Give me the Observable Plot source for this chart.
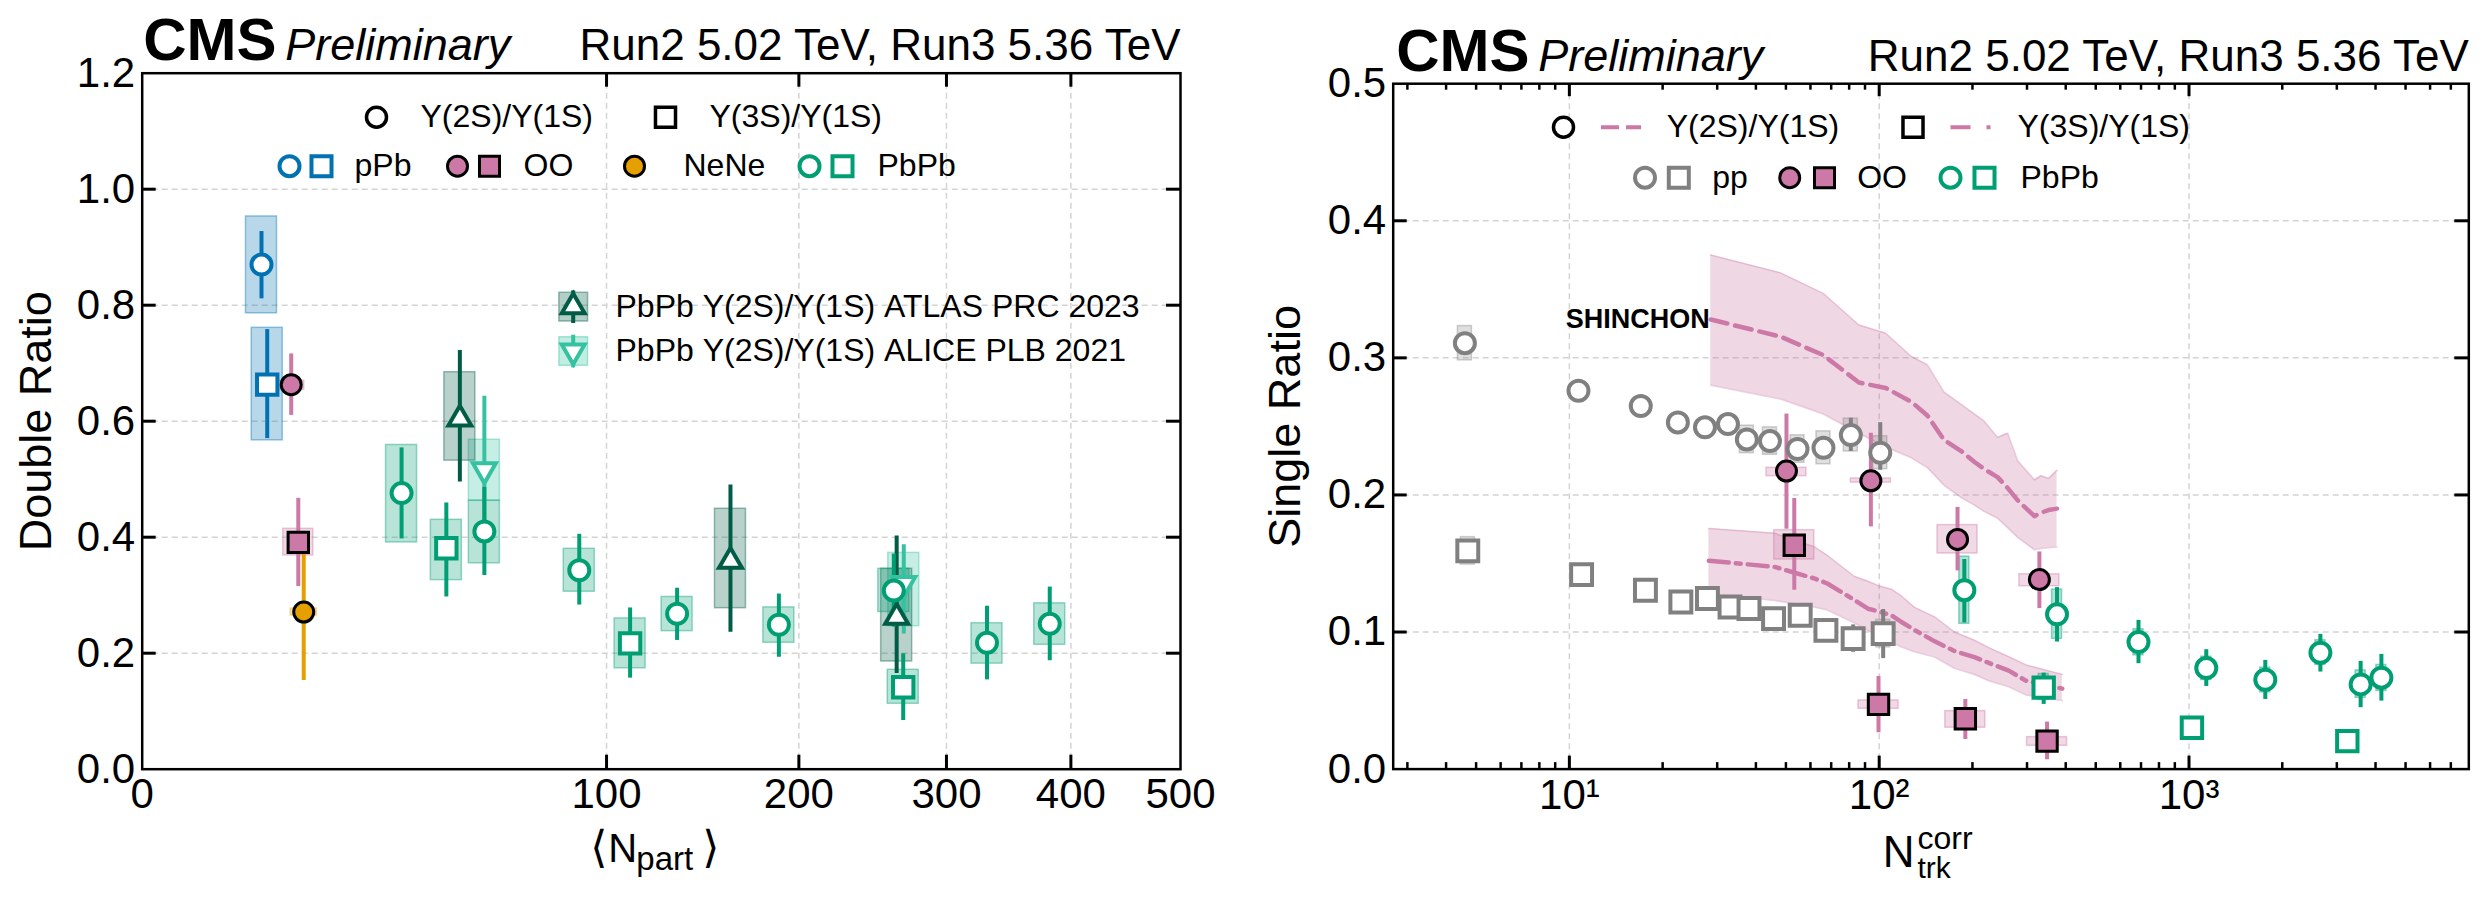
<!DOCTYPE html>
<html><head><meta charset="utf-8">
<script src="https://cdn.jsdelivr.net/npm/d3@7"></script>
<script src="https://cdn.jsdelivr.net/npm/@observablehq/plot@0.6"></script>
<style>
html,body{margin:0;padding:0;background:#fff;}
#wrap{position:relative;width:2485px;height:898px;overflow:hidden;background:#fff;}
#left{position:absolute;left:0;top:0;width:1240px;}
#right{position:absolute;left:1245px;top:0;width:1240px;}
svg{max-width:none !important;}
</style></head><body><div id="wrap"><div id="left"></div><div id="right"></div></div>
<script>
// ===== DATA =====
// columns: x, value, stat low, stat high, syst low, syst high
// Left panel: double ratio vs <Npart>
const L_pPb_2S  = [[6.6, 0.870, 0.811, 0.927, 0.786, 0.953]];
const L_pPb_3S  = [[7.25, 0.663, 0.570, 0.758, 0.567, 0.761]];
const L_OO_2S   = [[10.3, 0.663, 0.610, 0.716, 0.654, 0.670]];
const L_OO_3S   = [[11.3, 0.391, 0.315, 0.467, 0.3685, 0.4145]];
const L_NeNe_2S = [[12.1, 0.271, 0.153, 0.376, 0.265, 0.277]];
const L_PbPb_2S = [
  [31.2, 0.476, 0.397, 0.554, 0.391, 0.559],
  [54.3, 0.410, 0.334, 0.486, 0.355, 0.463],
  [88.6, 0.343, 0.283, 0.405, 0.306, 0.380],
  [132.7, 0.268, 0.222, 0.312, 0.238, 0.297],
  [188, 0.249, 0.193, 0.302, 0.218, 0.279],
  [262, 0.308, 0.245, 0.371, 0.271, 0.3455],
  [331, 0.218, 0.154, 0.281, 0.182, 0.2517],
  [382, 0.2507, 0.187, 0.314, 0.2145, 0.286]];
const L_PbPb_3S = [
  [42.9, 0.381, 0.297, 0.459, 0.326, 0.430],
  [110.4, 0.217, 0.157, 0.278, 0.174, 0.260],
  [268.6, 0.1414, 0.084, 0.199, 0.1128, 0.1714]];
const L_ATLAS_2S = [
  [46.8, 0.604, 0.495, 0.722, 0.532, 0.6845],
  [160.5, 0.3586, 0.236, 0.490, 0.2776, 0.449],
  [264, 0.262, 0.165, 0.402, 0.1857, 0.3455]];
const L_ALICE_2S = [
  [54.3, 0.516, 0.39, 0.643, 0.463, 0.568],
  [269, 0.32, 0.233, 0.387, 0.2466, 0.373]];

// Right panel: single ratio vs Ntrk^corr
const R_pp_2S = [
  [4.60, 0.3107, 0.3057, 0.3157, 0.2982, 0.3232],
  [10.7, 0.2760, 0.2720, 0.2800, 0.2720, 0.2800],
  [17.0, 0.2649, 0.2609, 0.2689, 0.2609, 0.2689],
  [22.4, 0.2529, 0.2489, 0.2569, 0.2479, 0.2579],
  [27.4, 0.2493, 0.2453, 0.2533, 0.2443, 0.2543],
  [32.5, 0.2517, 0.2477, 0.2557, 0.2457, 0.2577],
  [37.4, 0.2405, 0.2355, 0.2455, 0.2305, 0.2505],
  [44.4, 0.2393, 0.2343, 0.2443, 0.2293, 0.2493],
  [54.5, 0.2335, 0.2275, 0.2395, 0.2235, 0.2435],
  [66.1, 0.2344, 0.2274, 0.2414, 0.2224, 0.2464],
  [81.0, 0.2437, 0.2317, 0.2560, 0.2317, 0.2557],
  [100.8, 0.2308, 0.2180, 0.2527, 0.2188, 0.2428]];
const R_pp_3S = [
  [4.70, 0.1592, 0.1552, 0.1632, 0.1492, 0.1692],
  [10.95, 0.1419, 0.1379, 0.1459, 0.1379, 0.1459],
  [17.6, 0.1305, 0.1265, 0.1345, 0.1265, 0.1345],
  [22.9, 0.1219, 0.1179, 0.1259, 0.1169, 0.1269],
  [27.9, 0.1244, 0.1204, 0.1284, 0.1194, 0.1294],
  [33.0, 0.1183, 0.1133, 0.1233, 0.1123, 0.1243],
  [38.0, 0.1171, 0.1121, 0.1221, 0.1111, 0.1231],
  [45.6, 0.1098, 0.1038, 0.1158, 0.1028, 0.1168],
  [55.6, 0.1122, 0.1062, 0.1182, 0.1052, 0.1192],
  [67.3, 0.1012, 0.0932, 0.1092, 0.0932, 0.1092],
  [82.4, 0.0952, 0.0852, 0.1052, 0.0872, 0.1032],
  [103, 0.0988, 0.0806, 0.1164, 0.0888, 0.1088]];
const R_OO_2S = [
  [50.2, 0.2174, 0.175, 0.259, 0.2137, 0.2198],
  [94.0, 0.2103, 0.1767, 0.245, 0.209, 0.212],
  [179, 0.1675, 0.1446, 0.1909, 0.1573, 0.178],
  [328.9, 0.1383, 0.1171, 0.1584, 0.1334, 0.1421]];
const R_OO_3S = [
  [53.2, 0.1633, 0.1305, 0.1974, 0.1529, 0.1743],
  [99.5, 0.0472, 0.0265, 0.0676, 0.044, 0.0501],
  [189.7, 0.0367, 0.0216, 0.0508, 0.0302, 0.0423],
  [348.2, 0.0204, 0.0068, 0.0343, 0.017, 0.0233]];
const R_PbPb_2S = [
  [188.3, 0.1305, 0.1066, 0.1529, 0.106, 0.155],
  [375, 0.1129, 0.0927, 0.1324, 0.095, 0.131],
  [687, 0.0927, 0.0769, 0.1085, 0.083, 0.102],
  [1137, 0.0737, 0.0603, 0.0871, 0.065, 0.082],
  [1763, 0.0652, 0.0508, 0.0793, 0.056, 0.074],
  [2655, 0.0849, 0.0708, 0.0983, 0.076, 0.094],
  [3581, 0.0618, 0.0448, 0.0786, 0.052, 0.072],
  [4178, 0.0667, 0.0496, 0.0837, 0.057, 0.076]];
const R_PbPb_3S = [
  [339.6, 0.0594, 0.0472, 0.070, 0.0505, 0.0694],
  [1022, 0.0302, 0.027, 0.033, 0.027, 0.033],
  [3243, 0.0204, 0.018, 0.023, 0.018, 0.023]];

// SHINCHON model bands
const shin2S_N   = [28.6, 48, 66, 86, 105, 127, 143, 162, 184, 203, 218, 241, 260, 280, 317, 333, 352, 375];
const shin2S_mid = [0.328, 0.3155, 0.302, 0.282, 0.278, 0.268, 0.258, 0.240, 0.232, 0.224, 0.219, 0.213, 0.205, 0.196, 0.1845, 0.187, 0.189, 0.190];
const shin2S_hi  = [0.375, 0.362, 0.347, 0.324, 0.318, 0.301, 0.295, 0.275, 0.266, 0.259, 0.254, 0.242, 0.245, 0.225, 0.211, 0.214, 0.212, 0.218];
const shin2S_lo  = [0.280, 0.270, 0.259, 0.245, 0.235, 0.227, 0.220, 0.207, 0.198, 0.1925, 0.188, 0.183, 0.176, 0.169, 0.160, 0.161, 0.1615, 0.162];
const shin3S_N   = [28.2, 46, 62, 68, 83, 92, 99, 110, 118, 130, 151, 175, 203, 224, 262, 298, 390];
const shin3S_mid = [0.152, 0.1475, 0.139, 0.1354, 0.1235, 0.117, 0.1152, 0.112, 0.1073, 0.1015, 0.0932, 0.0861, 0.0817, 0.0778, 0.0718, 0.0644, 0.0587];
const shin3S_hi  = [0.1755, 0.172, 0.162, 0.156, 0.1407, 0.137, 0.134, 0.131, 0.1263, 0.118, 0.111, 0.100, 0.094, 0.089, 0.082, 0.076, 0.069];
const shin3S_lo  = [0.128, 0.123, 0.118, 0.116, 0.1067, 0.101, 0.0978, 0.0926, 0.089, 0.0855, 0.0817, 0.0735, 0.069, 0.0647, 0.060, 0.054, 0.050];

// Ticks
const L_xTicks = [0, 100, 200, 300, 400, 500];
const L_xInner = [100, 200, 300, 400];
const L_yTicks = [0, 0.2, 0.4, 0.6, 0.8, 1.0, 1.2];
const L_yInner = [0.2, 0.4, 0.6, 0.8, 1.0];
const R_xTicks = [10, 100, 1000];
const R_xTickLabels = ["10\u00B9", "10\u00B2", "10\u00B3"];
const R_xMinor = [3,4,5,6,7,8,9,20,30,40,50,60,70,80,90,200,300,400,500,600,700,800,900,2000,3000,4000,5000,6000,7000];
const R_yTicks = [0, 0.1, 0.2, 0.3, 0.4, 0.5];
const R_yInner = [0.1, 0.2, 0.3, 0.4];

// ===== STYLE =====
const FONT = "'Liberation Sans', Arial, Helvetica, sans-serif";
const COL = {pPb:"#0072B2", OO:"#CC79A7", NeNe:"#E69F00", PbPb:"#009E73", pp:"#808080", ATLAS:"#005C45", ALICE:"#35C2A0"};
const GRID = {stroke:"#d4d4d4", strokeWidth:1.5, strokeDasharray:"6,4"};
const UPS2 = "\u03A5(2S)/\u03A5(1S)", UPS3 = "\u03A5(3S)/\u03A5(1S)";

const triDown = {draw(ctx, size){ const y = -Math.sqrt(size/(3*Math.sqrt(3))); ctx.moveTo(0,-2*y); ctx.lineTo(-Math.sqrt(3)*y, y); ctx.lineTo(Math.sqrt(3)*y, y); ctx.closePath(); }};
const vline = {draw(ctx, size){ const r = Math.sqrt(size/Math.PI); ctx.moveTo(0,-r); ctx.lineTo(0,r); }};
const hline = {draw(ctx, size){ const r = Math.sqrt(size/Math.PI); ctx.moveTo(-r,0); ctx.lineTo(r,0); }};

const rows = a => a.map(([x,y,sl,sh,yl,yh]) => ({x,y,sl,sh,yl,yh}));
function series(arr, o) {
  const d = rows(arr);
  const {color, symbol, r, fill="white", stroke=color, sw=4, half=15.5, op=0.28, bw=4} = o;
  return [
    Plot.rect(d, {x1:"x", x2:"x", y1:"yl", y2:"yh", insetLeft:-half, insetRight:-half, fill:color, fillOpacity:op, stroke:color, strokeOpacity:Math.min(1, op+0.12), strokeWidth:1.5}),
    Plot.ruleX(d, {x:"x", y1:"sl", y2:"sh", stroke:color, strokeWidth:bw}),
    Plot.dot(d, {x:"x", y:"y", symbol, r, fill, stroke, strokeWidth:sw})
  ];
}
const layer = S => [...S.map(s=>s[0]), ...S.map(s=>s[1]), ...S.map(s=>s[2])];
const legDot = (dx, dy, o) => Plot.dot([0], {frameAnchor:"top-left", dx, dy, ...o});
const legText = (dx, dy, t, o={}) => Plot.text([t], {frameAnchor:"top-left", dx, dy, text:d=>d, textAnchor:"start", lineAnchor:"middle", fontSize:32, fill:"black", ...o});
const frameTicks = (W, H, xs, ys, xlen, ylen, sw=3) => [
  Plot.tickX(xs, {x:d=>d, insetTop:H-xlen, stroke:"black", strokeWidth:sw}),
  Plot.tickX(xs, {x:d=>d, insetBottom:H-xlen, stroke:"black", strokeWidth:sw}),
  Plot.tickY(ys, {y:d=>d, insetRight:W-ylen, stroke:"black", strokeWidth:sw}),
  Plot.tickY(ys, {y:d=>d, insetLeft:W-ylen, stroke:"black", strokeWidth:sw})
];
const titles = (dyT, cmsDx) => [
  Plot.text(["CMS"], {frameAnchor:"top-left", dx:cmsDx, dy:dyT, text:d=>d, textAnchor:"start", lineAnchor:"bottom", fontSize:60, fontWeight:"bold", fill:"black"}),
  Plot.text(["Preliminary"], {frameAnchor:"top-left", dx:cmsDx+142, dy:dyT, text:d=>d, textAnchor:"start", lineAnchor:"bottom", fontSize:45, fontStyle:"italic", fill:"black"}),
  Plot.text(["Run2 5.02 TeV, Run3 5.36 TeV"], {frameAnchor:"top-right", dy:dyT, text:d=>d, textAnchor:"end", lineAnchor:"bottom", fontSize:44, fill:"black"})
];

// ===== LEFT PANEL =====
{
  const mL=141.7, mR=60, mT=72.7, mB=129.3, W=1240-mL-mR, H=898-mT-mB;
  const S = [
    series(L_ALICE_2S, {color:COL.ALICE, symbol:triDown, r:8.5}),
    series(L_ATLAS_2S, {color:COL.ATLAS, symbol:"triangle", r:8.5}),
    series(L_pPb_2S, {color:COL.pPb, symbol:"circle", r:10}),
    series(L_pPb_3S, {color:COL.pPb, symbol:"square", r:11.5}),
    series(L_OO_2S, {color:COL.OO, symbol:"circle", r:10, fill:COL.OO, stroke:"black", sw:3, half:13}),
    series(L_OO_3S, {color:COL.OO, symbol:"square", r:11.5, fill:COL.OO, stroke:"black", sw:3, half:15}),
    series(L_NeNe_2S, {color:COL.NeNe, symbol:"circle", r:10, fill:COL.NeNe, stroke:"black", sw:3, half:13}),
    series(L_PbPb_3S, {color:COL.PbPb, symbol:"square", r:11.5}),
    series(L_PbPb_2S, {color:COL.PbPb, symbol:"circle", r:10})
  ];
  const chart = Plot.plot({
    width:1240, height:898, marginLeft:mL, marginRight:mR, marginTop:mT, marginBottom:mB,
    style:{fontFamily:FONT, fontSize:"42px", color:"black", background:"white", overflow:"visible"},
    x:{type:"sqrt", domain:[0,500], ticks:L_xTicks, tickFormat:d=>String(d), tickSize:0, tickPadding:9, label:null},
    y:{domain:[0,1.2], ticks:L_yTicks, tickFormat:d=>d.toFixed(1), tickSize:0, tickPadding:7, label:null},
    marks:[
      Plot.ruleX(L_xInner, {x:d=>d, ...GRID}),
      Plot.ruleY(L_yInner, {y:d=>d, ...GRID}),
      ...layer(S),
      Plot.frame({stroke:"black", strokeWidth:2.5}),
      ...frameTicks(W, H, L_xInner, L_yInner, 14, 14),
      ...titles(-12.7, 1),
      // legend row 1
      legDot(234.3, 44, {symbol:"circle", r:10, fill:"white", stroke:"black", strokeWidth:3.5}),
      legText(278.3, 44, UPS2),
      legDot(523.3, 44, {symbol:"square", r:11.3, fill:"white", stroke:"black", strokeWidth:3.5}),
      legText(567.3, 44, UPS3),
      // legend row 2
      legDot(147.3, 93, {symbol:"circle", r:10, fill:"white", stroke:COL.pPb, strokeWidth:4}),
      legDot(179.3, 93, {symbol:"square", r:11.3, fill:"white", stroke:COL.pPb, strokeWidth:4}),
      legText(212.3, 93, "pPb"),
      legDot(315.3, 93, {symbol:"circle", r:10, fill:COL.OO, stroke:"black", strokeWidth:3}),
      legDot(347.3, 93, {symbol:"square", r:11.3, fill:COL.OO, stroke:"black", strokeWidth:3}),
      legText(381.3, 93, "OO"),
      legDot(492.3, 93, {symbol:"circle", r:10, fill:COL.NeNe, stroke:"black", strokeWidth:3}),
      legText(541.3, 93, "NeNe"),
      legDot(667.3, 93, {symbol:"circle", r:10, fill:"white", stroke:COL.PbPb, strokeWidth:4}),
      legDot(700.3, 93, {symbol:"square", r:11.3, fill:"white", stroke:COL.PbPb, strokeWidth:4}),
      legText(735.3, 93, "PbPb"),
      // ATLAS / ALICE legend
      legDot(431, 233.5, {symbol:"square", r:16.2, fill:COL.ATLAS, fillOpacity:0.3, stroke:COL.ATLAS, strokeOpacity:0.4, strokeWidth:1.5}),
      legDot(431, 233.5, {symbol:vline, r:16.3, fill:"none", stroke:COL.ATLAS, strokeWidth:4}),
      legDot(431, 233.5, {symbol:"triangle", r:8.5, fill:"white", stroke:COL.ATLAS, strokeWidth:4}),
      legText(473.3, 233.5, "PbPb " + UPS2 + " ATLAS PRC 2023"),
      legDot(431, 277.8, {symbol:"square", r:16.2, fill:COL.ALICE, fillOpacity:0.3, stroke:COL.ALICE, strokeOpacity:0.4, strokeWidth:1.5}),
      legDot(431, 277.8, {symbol:vline, r:16.3, fill:"none", stroke:COL.ALICE, strokeWidth:4}),
      legDot(431, 277.8, {symbol:triDown, r:8.5, fill:"white", stroke:COL.ALICE, strokeWidth:4}),
      legText(473.3, 277.8, "PbPb " + UPS2 + " ALICE PLB 2021"),
      // axis labels
      Plot.text(["Double Ratio"], {frameAnchor:"left", dx:-105.7, rotate:-90, text:d=>d, textAnchor:"middle", lineAnchor:"middle", fontSize:45, fill:"black"}),
      Plot.text(["\u27E8"], {frameAnchor:"bottom", dx:-71, dy:92.5, text:d=>d, textAnchor:"start", lineAnchor:"bottom", fontSize:44, fontFamily:"'DejaVu Sans', sans-serif", fill:"black"}),
      Plot.text(["N"], {frameAnchor:"bottom", dx:-53, dy:92.5, text:d=>d, textAnchor:"start", lineAnchor:"bottom", fontSize:40, fill:"black"}),
      Plot.text(["part"], {frameAnchor:"bottom", dx:-25, dy:100.5, text:d=>d, textAnchor:"start", lineAnchor:"bottom", fontSize:33, fill:"black"}),
      Plot.text(["\u27E9"], {frameAnchor:"bottom", dx:41, dy:92.5, text:d=>d, textAnchor:"start", lineAnchor:"bottom", fontSize:44, fontFamily:"'DejaVu Sans', sans-serif", fill:"black"})
    ]
  });
  document.getElementById("left").append(chart);
}

// ===== RIGHT PANEL =====
{
  const mL=147.7, mR=16.7, mT=83.2, mB=129.4, W=1240-mL-mR, H=898-mT-mB;
  const band2S = shin2S_N.map((N,i)=>({N, mid:shin2S_mid[i], lo:shin2S_lo[i], hi:shin2S_hi[i]}));
  const band3S = shin3S_N.map((N,i)=>({N, mid:shin3S_mid[i], lo:shin3S_lo[i], hi:shin3S_hi[i]}));
  const S = [
    series(R_pp_2S, {color:COL.pp, symbol:"circle", r:10, half:7, op:0.25}),
    series(R_pp_3S, {color:COL.pp, symbol:"square", r:11.8, half:7, op:0.25}),
    series(R_OO_2S, {color:COL.OO, symbol:"circle", r:10, fill:COL.OO, stroke:"black", sw:3, half:20, op:0.28}),
    series(R_OO_3S, {color:COL.OO, symbol:"square", r:11.5, fill:COL.OO, stroke:"black", sw:3, half:20, op:0.28}),
    series(R_PbPb_3S, {color:COL.PbPb, symbol:"square", r:11.5, half:5, op:0.3}),
    series(R_PbPb_2S, {color:COL.PbPb, symbol:"circle", r:10, half:5, op:0.3})
  ];
  const chart = Plot.plot({
    width:1240, height:898, marginLeft:mL, marginRight:mR, marginTop:mT, marginBottom:mB,
    style:{fontFamily:FONT, fontSize:"42px", color:"black", background:"white", overflow:"visible"},
    x:{type:"log", domain:[2.7,8000], ticks:R_xTicks, tickFormat:d=>R_xTickLabels[R_xTicks.indexOf(d)], tickSize:0, tickPadding:10, label:null},
    y:{domain:[0,0.5], ticks:R_yTicks, tickFormat:d=>d.toFixed(1), tickSize:0, tickPadding:7, label:null},
    marks:[
      Plot.ruleX(R_xTicks, {x:d=>d, ...GRID}),
      Plot.ruleY(R_yInner, {y:d=>d, ...GRID}),
      Plot.areaY(band2S, {x:"N", y1:"lo", y2:"hi", fill:COL.OO, fillOpacity:0.3}),
      Plot.areaY(band3S, {x:"N", y1:"lo", y2:"hi", fill:COL.OO, fillOpacity:0.3}),
      Plot.line(band2S, {x:"N", y:"hi", stroke:COL.OO, strokeOpacity:0.35, strokeWidth:1.5}),
      Plot.line(band2S, {x:"N", y:"lo", stroke:COL.OO, strokeOpacity:0.35, strokeWidth:1.5}),
      Plot.line(band3S, {x:"N", y:"hi", stroke:COL.OO, strokeOpacity:0.35, strokeWidth:1.5}),
      Plot.line(band3S, {x:"N", y:"lo", stroke:COL.OO, strokeOpacity:0.35, strokeWidth:1.5}),
      Plot.line(band2S, {x:"N", y:"mid", stroke:COL.OO, strokeWidth:4.5, strokeDasharray:"17,8"}),
      Plot.line(band3S, {x:"N", y:"mid", stroke:COL.OO, strokeWidth:4.5, strokeDasharray:"20,7,5,7"}),
      Plot.text([band2S[0]], {x:"N", y:"mid", text:()=>"SHINCHON", textAnchor:"end", lineAnchor:"middle", dx:-1, fontSize:27, fontWeight:"bold", fill:"black"}),
      ...layer(S),
      Plot.frame({stroke:"black", strokeWidth:2.5}),
      ...frameTicks(W, H, R_xTicks, R_yInner, 13, 14),
      Plot.tickX(R_xMinor, {x:d=>d, insetTop:H-6.5, stroke:"black", strokeWidth:2.5}),
      Plot.tickX(R_xMinor, {x:d=>d, insetBottom:H-6.5, stroke:"black", strokeWidth:2.5}),
      ...titles(-13.2, 3),
      // legend row 1
      legDot(170.3, 43.5, {symbol:"circle", r:10, fill:"white", stroke:"black", strokeWidth:3.5}),
      legDot(227.8, 43.5, {symbol:hline, r:20, fill:"none", stroke:COL.OO, strokeWidth:4, strokeDasharray:"18,7"}),
      legText(273.5, 43.5, UPS2),
      legDot(519.8, 43.5, {symbol:"square", r:11.3, fill:"white", stroke:"black", strokeWidth:3.5}),
      legDot(577.3, 43.5, {symbol:hline, r:20, fill:"none", stroke:COL.OO, strokeWidth:4, strokeDasharray:"20,16,4,10"}),
      legText(624.3, 43.5, UPS3),
      // legend row 2
      legDot(251.8, 94, {symbol:"circle", r:10, fill:"white", stroke:COL.pp, strokeWidth:4}),
      legDot(285.6, 94, {symbol:"square", r:11.3, fill:"white", stroke:COL.pp, strokeWidth:4}),
      legText(319, 94, "pp"),
      legDot(396.5, 94, {symbol:"circle", r:10, fill:COL.OO, stroke:"black", strokeWidth:3}),
      legDot(431.3, 94, {symbol:"square", r:11.3, fill:COL.OO, stroke:"black", strokeWidth:3}),
      legText(464, 94, "OO"),
      legDot(557.3, 94, {symbol:"circle", r:10, fill:"white", stroke:COL.PbPb, strokeWidth:4}),
      legDot(591.3, 94, {symbol:"square", r:11.3, fill:"white", stroke:COL.PbPb, strokeWidth:4}),
      legText(627.3, 94, "PbPb"),
      // axis labels
      Plot.text(["Single Ratio"], {frameAnchor:"left", dx:-108.1, rotate:-90, text:d=>d, textAnchor:"middle", lineAnchor:"middle", fontSize:45, fill:"black"}),
      Plot.text(["N"], {frameAnchor:"bottom", dx:-16.5, dy:97.4, text:d=>d, textAnchor:"end", lineAnchor:"bottom", fontSize:44, fill:"black"}),
      Plot.text(["corr"], {frameAnchor:"bottom", dx:-13.5, dy:79.4, text:d=>d, textAnchor:"start", lineAnchor:"bottom", fontSize:32, fill:"black"}),
      Plot.text(["trk"], {frameAnchor:"bottom", dx:-13.5, dy:108.4, text:d=>d, textAnchor:"start", lineAnchor:"bottom", fontSize:30, fill:"black"})
    ]
  });
  document.getElementById("right").append(chart);
}
</script>
</body></html>
